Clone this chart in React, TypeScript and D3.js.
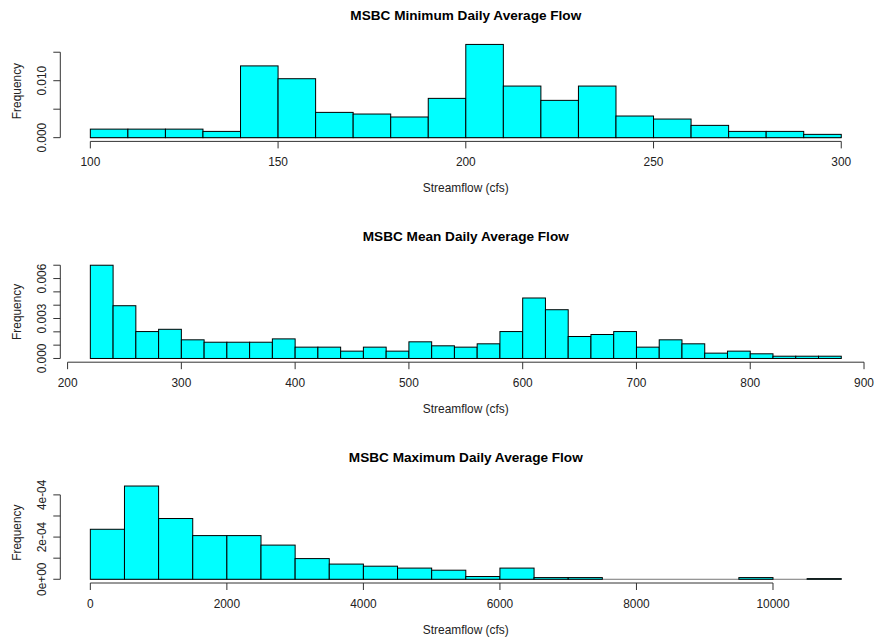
import React from 'react';
import * as d3 from 'd3';

// histogram breaks and densities
const minBreaks = [100, 110, 120, 130, 140, 150, 160, 170, 180, 190, 200, 210, 220, 230, 240, 250, 260, 270, 280, 290, 300];
const minDensity = [0.0015, 0.0015, 0.0015, 0.0011, 0.0126, 0.01035, 0.00444, 0.00415, 0.00363, 0.0069, 0.01637, 0.00906, 0.00655, 0.00906, 0.0038, 0.00327, 0.00216, 0.0011, 0.0011, 0.00058];
const minXTicks = [100, 150, 200, 250, 300];
const minYTicks = [0, 0.005, 0.01, 0.015];
const minYLabels = ['0.000', '', '0.010', ''];

const meanBreaks = [220, 240, 260, 280, 300, 320, 340, 360, 380, 400, 420, 440, 460, 480, 500, 520, 540, 560, 580, 600, 620, 640, 660, 680, 700, 720, 740, 760, 780, 800, 820, 840, 860, 880];
const meanDensity = [0.007, 0.00396, 0.00202, 0.00219, 0.0014, 0.00122, 0.00122, 0.00122, 0.00147, 0.00085, 0.00085, 0.00055, 0.00085, 0.00055, 0.00125, 0.00095, 0.00085, 0.0011, 0.00202, 0.00454, 0.00366, 0.00165, 0.0018, 0.00202, 0.00085, 0.0014, 0.0011, 0.0004, 0.00055, 0.00035, 0.00017, 0.00017, 0.00017];
const meanXTicks = [200, 300, 400, 500, 600, 700, 800, 900];
const meanYTicks = [0, 0.001, 0.002, 0.003, 0.004, 0.005, 0.006, 0.007];
const meanYLabels = ['0.000', '', '', '0.003', '', '', '0.006', ''];

const maxBreaks = [0, 500, 1000, 1500, 2000, 2500, 3000, 3500, 4000, 4500, 5000, 5500, 6000, 6500, 7000, 7500, 8000, 8500, 9000, 9500, 10000, 10500, 11000];
const maxDensity = [2.37e-4, 4.42e-4, 2.88e-4, 2.07e-4, 2.07e-4, 1.62e-4, 0.98e-4, 0.72e-4, 0.62e-4, 0.53e-4, 0.43e-4, 0.13e-4, 0.53e-4, 0.08e-4, 0.08e-4, 0, 0, 0, 0, 0.08e-4, 0, 0.03e-4];
const maxXTicks = [0, 2000, 4000, 6000, 8000, 10000];
const maxYTicks = [0, 1e-4, 2e-4, 3e-4, 4e-4];
const maxYLabels = ['0e+00', '', '2e-04', '', '4e-04'];

const FONT = '"Liberation Sans", Arial, sans-serif';
const LEFT = 60.3;
const RIGHT = 871.3;
const PH = 100.7;

type PanelProps = {
  title: string;
  top: number;
  breaks: number[];
  density: number[];
  xTicks: number[];
  yTicks: number[];
  yLabels: string[];
};

const Panel = ({ title, top, breaks, density, xTicks, yTicks, yLabels }: PanelProps) => {
  const lo = breaks[0];
  const hi = breaks[breaks.length - 1];
  const pad = (hi - lo) * 0.04;
  const x = d3.scaleLinear().domain([lo - pad, hi + pad]).range([LEFT, RIGHT]);
  const ymax = d3.max(density) as number;
  const bottom = top + PH;
  const y = d3.scaleLinear().domain([-0.04 * ymax, 1.04 * ymax]).range([bottom, top]);
  const cx = (LEFT + RIGHT) / 2;

  return (
    <g>
      <text x={cx} y={top - 25} textAnchor="middle" dominantBaseline="central"
        fontFamily={FONT} fontWeight="bold" fontSize={13.6} fill="#000">{title}</text>

      {/* zero line under the bars */}
      <line x1={x(lo)} x2={x(hi)} y1={y(0)} y2={y(0)} stroke="#777" strokeWidth={1} />
      {density.map((d, i) => (
        d > 0 ? (
          <rect key={i} x={x(breaks[i])} y={y(d)} width={x(breaks[i + 1]) - x(breaks[i])}
            height={y(0) - y(d)} fill="#00FFFF" stroke="#000" strokeWidth={1} />
        ) : null
      ))}

      {/* x axis */}
      <line x1={x(xTicks[0])} x2={x(xTicks[xTicks.length - 1])} y1={bottom} y2={bottom} stroke="#333" />
      {xTicks.map((t) => (
        <g key={t}>
          <line x1={x(t)} x2={x(t)} y1={bottom} y2={bottom + 7} stroke="#333" />
          <text x={x(t)} y={bottom + 20.5} textAnchor="middle" dominantBaseline="central"
            fontFamily={FONT} fontSize={11.9} fill="#222">{t}</text>
        </g>
      ))}
      <text x={cx} y={bottom + 46.5} textAnchor="middle" dominantBaseline="central"
        fontFamily={FONT} fontSize={11.9} fill="#222">Streamflow (cfs)</text>

      {/* y axis */}
      <line x1={LEFT} x2={LEFT} y1={y(yTicks[0])} y2={y(yTicks[yTicks.length - 1])} stroke="#333" />
      {yTicks.map((t, i) => (
        <g key={i}>
          <line x1={LEFT - 7} x2={LEFT} y1={y(t)} y2={y(t)} stroke="#333" />
          {yLabels[i] ? (
            <text transform={`translate(41.7,${y(t)}) rotate(-90)`} textAnchor="middle" dominantBaseline="central"
              fontFamily={FONT} fontSize={11.9} fill="#222">{yLabels[i]}</text>
          ) : null}
        </g>
      ))}
      <text transform={`translate(16.7,${(top + bottom) / 2}) rotate(-90)`} textAnchor="middle" dominantBaseline="central"
        fontFamily={FONT} fontSize={11.9} fill="#222">Frequency</text>
    </g>
  );
};

export default function App() {
  return (
    <svg width={874} height={641} style={{ position: 'absolute', left: 0, top: 0, background: '#fff' }}>
      <Panel title="MSBC Minimum Daily Average Flow" top={40.7} breaks={minBreaks} density={minDensity}
        xTicks={minXTicks} yTicks={minYTicks} yLabels={minYLabels} />
      <Panel title="MSBC Mean Daily Average Flow" top={261.5} breaks={meanBreaks} density={meanDensity}
        xTicks={meanXTicks} yTicks={meanYTicks} yLabels={meanYLabels} />
      <Panel title="MSBC Maximum Daily Average Flow" top={482.3} breaks={maxBreaks} density={maxDensity}
        xTicks={maxXTicks} yTicks={maxYTicks} yLabels={maxYLabels} />
    </svg>
  );
}
